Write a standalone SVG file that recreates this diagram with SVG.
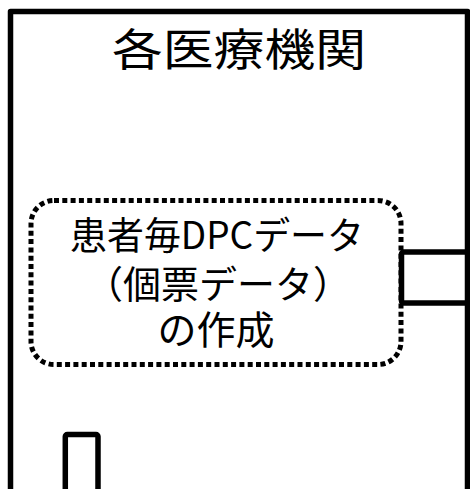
<svg xmlns="http://www.w3.org/2000/svg" width="470" height="489" viewBox="0 0 470 489">
<style>
.frame{fill:none;stroke:#000;stroke-width:5.5;stroke-linejoin:round}
.dotted{fill:none;stroke:#000;stroke-width:5;stroke-dasharray:5 3.3}
.t{font-family:"Noto Sans CJK JP","Noto Sans",sans-serif;fill:#000;text-anchor:middle}
</style>
<rect width="470" height="489" fill="#fff"/>
<g id="hospital">
<path class="frame" d="M10.5,495 V11.5 H467.5 V495"/>
<text class="t" x="239" y="66" font-size="44" textLength="254" lengthAdjust="spacingAndGlyphs">各医療機関</text>
</g>
<g id="dpc-data">
<rect class="dotted" x="31" y="200.5" width="370" height="164" rx="23" ry="23"/>
<text class="t" font-size="38"><tspan x="217" y="249" textLength="294" lengthAdjust="spacingAndGlyphs">患者毎DPCデータ</tspan><tspan x="218" y="298">（個票データ）</tspan><tspan x="216" y="344" font-size="39">の作成</tspan></text>
</g>
<g id="connectors">
<rect class="frame" x="401.5" y="252" width="90" height="51" rx="2"/>
<rect class="frame" x="65.3" y="434.5" width="32.7" height="80" rx="2"/>
</g>
</svg>
